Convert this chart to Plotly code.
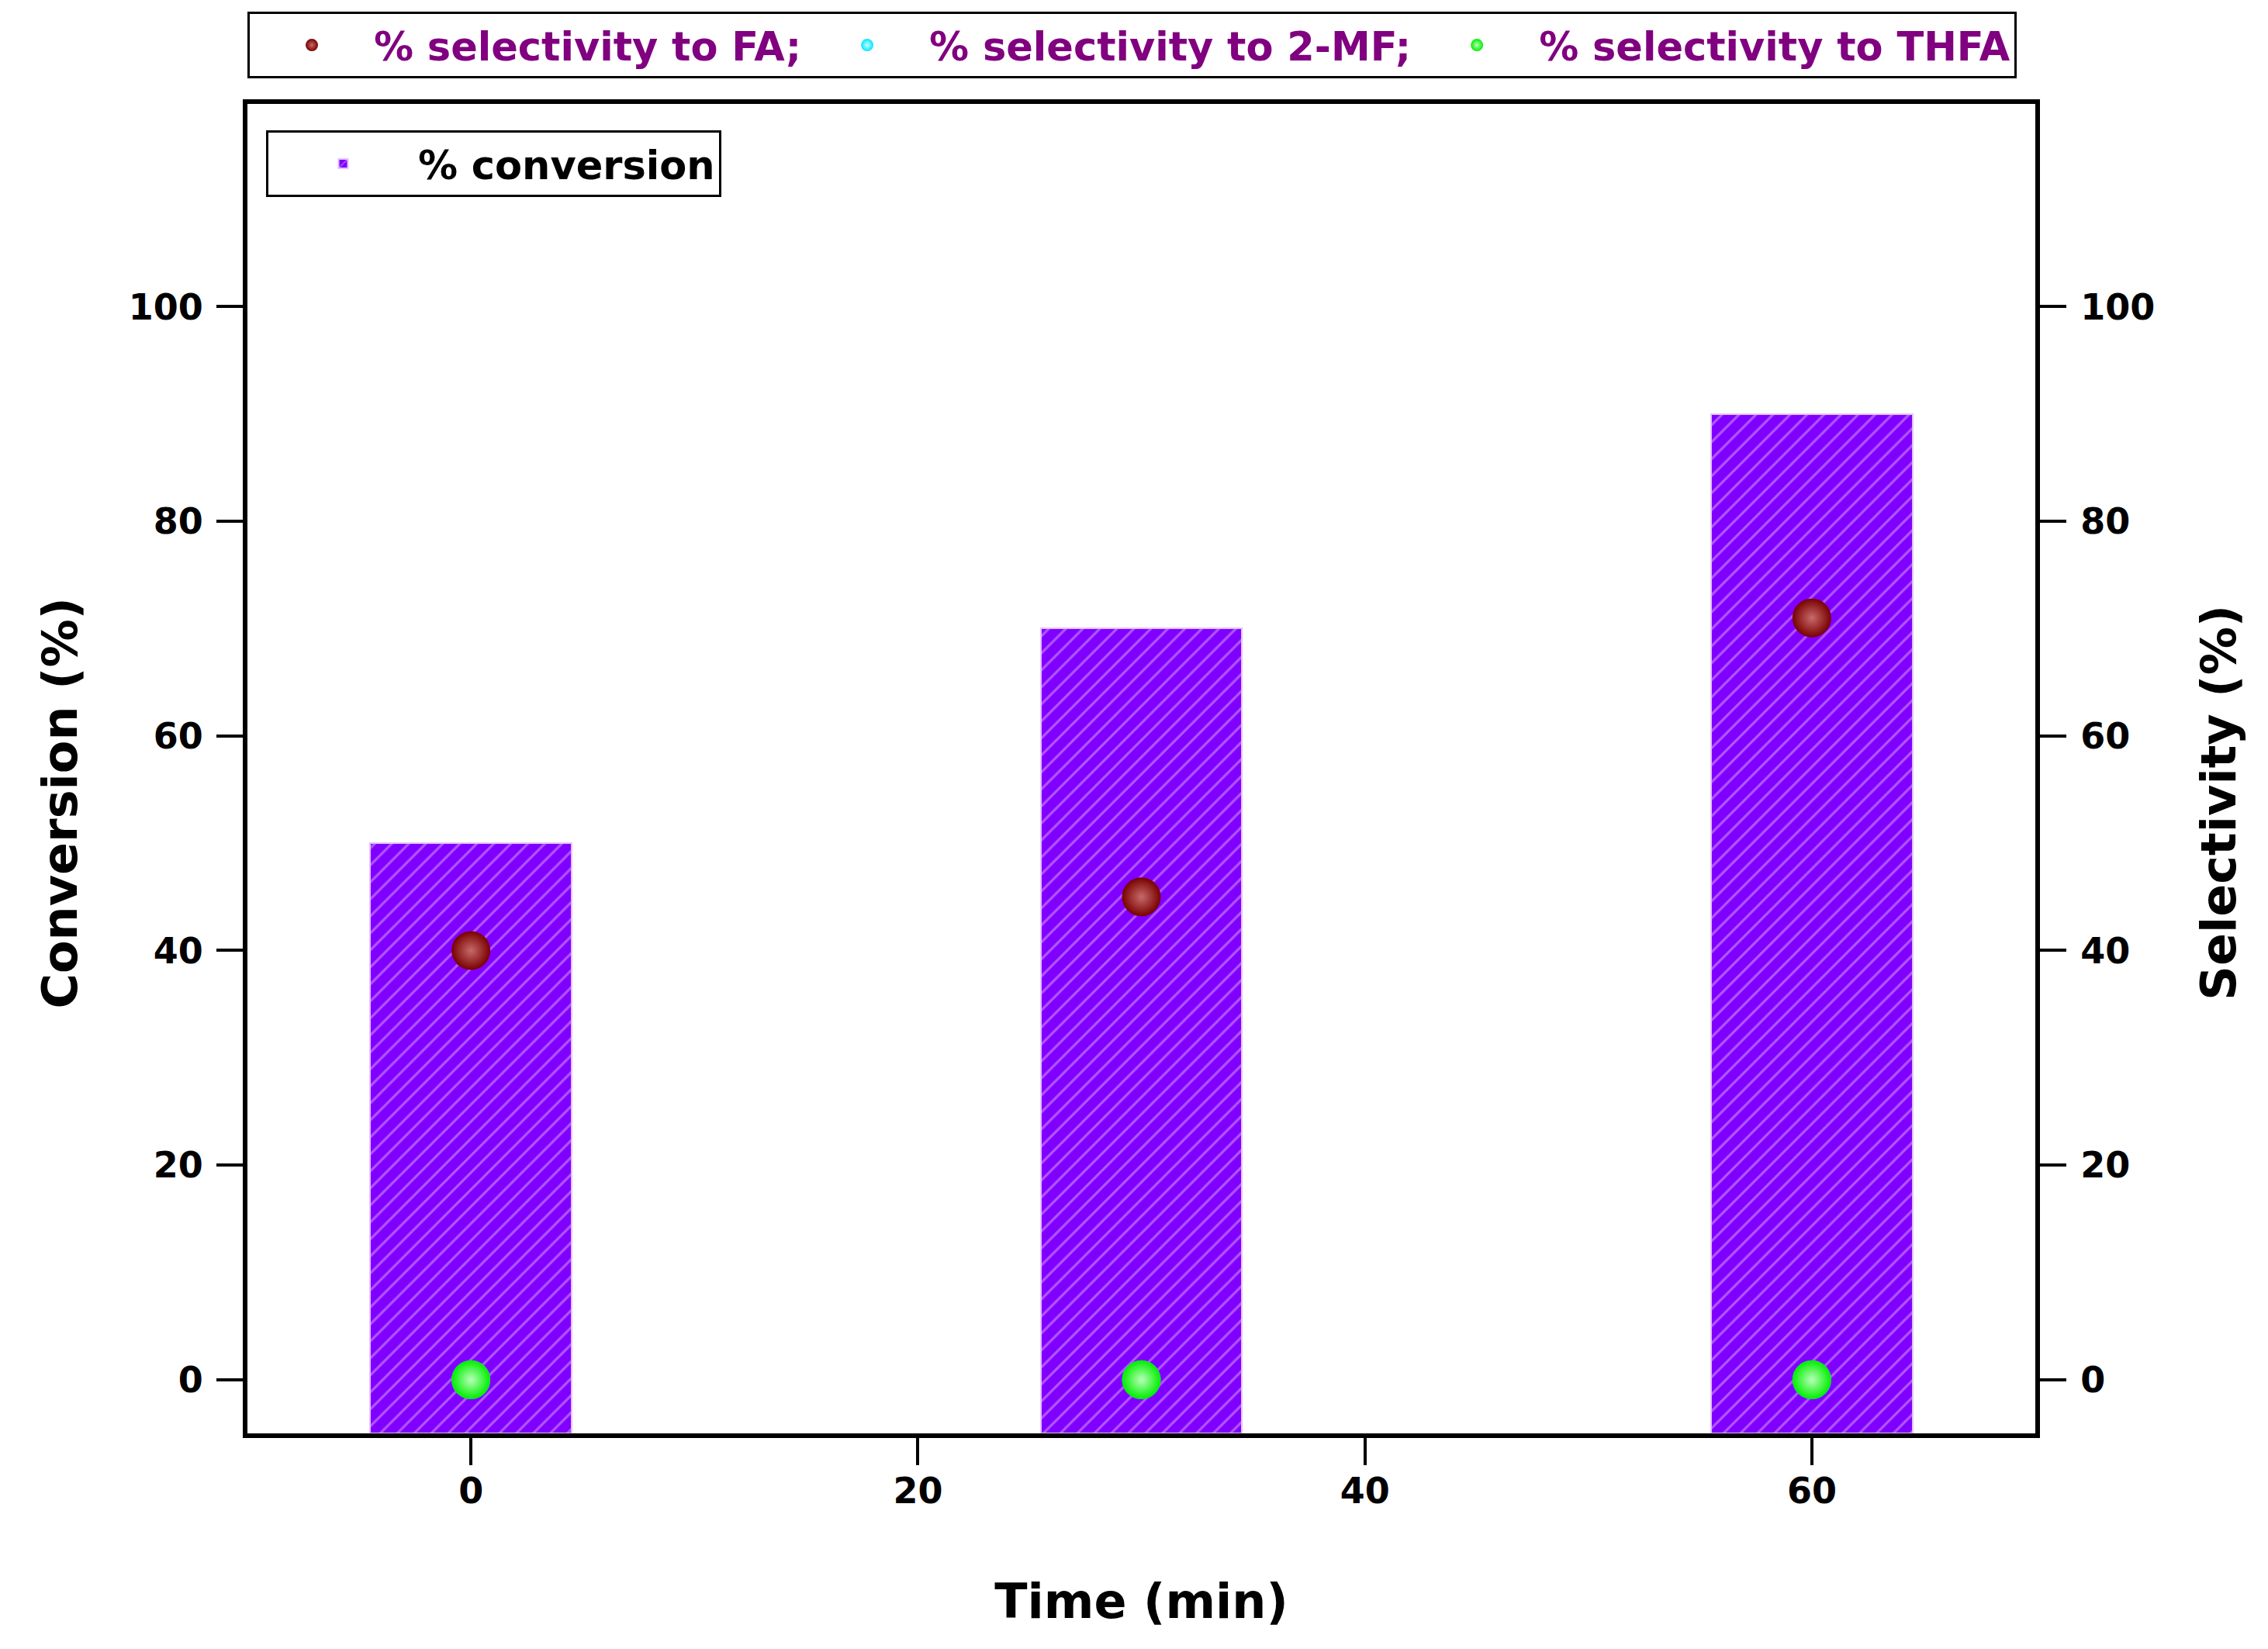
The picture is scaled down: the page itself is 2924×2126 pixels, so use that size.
import plotly.graph_objects as go

# ---- data ----
time_min = [0, 30, 60]
conversion = [50, 70, 90]
sel_FA = [40, 45, 71]
sel_2MF = [0, 0, 0]
sel_THFA = [0, 0, 0]

x_ticks = [0, 20, 40, 60]
y_ticks = [0, 20, 40, 60, 80, 100]
X_RANGE = [-10, 70]
Y_RANGE = [-5, 118.9]
BAR_WIDTH = 9

FONT = "DejaVu Sans"

fig = go.Figure()

# bars drawn from the bottom of the axis range
fig.add_trace(go.Bar(
    x=time_min,
    y=[v - Y_RANGE[0] for v in conversion],
    base=Y_RANGE[0],
    width=BAR_WIDTH,
    name="% conversion",
    legend="legend2",
    marker=dict(
        color="#8000ff",
        line=dict(color="#e3c2ff", width=2),
        pattern=dict(shape="/", fgcolor="#e2adff", bgcolor="#8000ff",
                     size=15.5, solidity=0.2, fillmode="overlay"),
    ),
    yaxis="y",
))

def sphere(name, y, color, hi):
    return go.Scatter(
        x=time_min, y=y, mode="markers", name=name, yaxis="y2",
        legend="legend",
        marker=dict(size=50, color=color,
                    gradient=dict(type="radial", color=hi),
                    line=dict(width=0)),
    )

fig.add_trace(sphere("% selectivity to FA;", sel_FA, "#780000", "#c86a6a"))
fig.add_trace(sphere("% selectivity to 2-MF;", sel_2MF, "#00e5ff", "#c8ffff"))
fig.add_trace(sphere("% selectivity to THFA", sel_THFA, "#00ee00", "#b8ffb8"))

tickfont = dict(family=FONT, size=46, color="black", weight="bold")
titlefont = dict(family=FONT, size=62, color="black", weight="bold")

fig.update_layout(
    width=2924, height=2126, autosize=False,
    margin=dict(l=319, r=300, t=134, b=278, pad=0),
    paper_bgcolor="white", plot_bgcolor="white",
    font=dict(family=FONT, weight="bold"),
    bargap=0,
    xaxis=dict(
        range=X_RANGE, tickvals=x_ticks, ticktext=[str(v) for v in x_ticks],
        showgrid=False, zeroline=False,
        showline=True, linecolor="black", linewidth=6, mirror=True,
        ticks="outside", ticklen=35, tickwidth=4, tickcolor="black",
        ticklabelstandoff=-6,
        tickfont=tickfont,
        title=dict(text="Time (min)", font=titlefont, standoff=96),
    ),
    yaxis=dict(
        range=Y_RANGE, tickvals=y_ticks, ticktext=[str(v) for v in y_ticks],
        showgrid=False, zeroline=False,
        showline=True, linecolor="black", linewidth=6, mirror=True,
        ticks="outside", ticklen=34, tickwidth=4, tickcolor="black",
        ticklabelstandoff=8,
        tickfont=tickfont,
    ),
    yaxis2=dict(
        range=Y_RANGE, tickvals=y_ticks, ticktext=[str(v) for v in y_ticks],
        overlaying="y", side="right",
        showgrid=False, zeroline=False,
        showline=True, linecolor="black", linewidth=6,
        ticks="outside", ticklen=34, tickwidth=4, tickcolor="black",
        ticklabelstandoff=9,
        tickfont=tickfont,
    ),
    annotations=[
        dict(text="Conversion (%)", textangle=-90, xref="paper", yref="paper",
             x=-0.1046, y=0.4745, xanchor="center", yanchor="middle",
             showarrow=False, font=titlefont),
        dict(text="Selectivity (%)", textangle=-90, xref="paper", yref="paper",
             x=1.1028, y=0.4745, xanchor="center", yanchor="middle",
             showarrow=False, font=titlefont),
    ],
    legend=dict(
        orientation="h",
        x=0, xanchor="left", y=1.019, yanchor="bottom",
        bgcolor="white", bordercolor="black", borderwidth=3,
        font=dict(family=FONT, size=51, color="#800080", weight="bold"),
        itemwidth=150,
        traceorder="normal",
    ),
    legend2=dict(
        x=0.0104, xanchor="left", y=0.98, yanchor="top",
        bgcolor="white", bordercolor="black", borderwidth=3,
        itemwidth=183,
        font=dict(family=FONT, size=51, color="black", weight="bold"),
    ),
    showlegend=True,
)

fig.write_html("out.html")
